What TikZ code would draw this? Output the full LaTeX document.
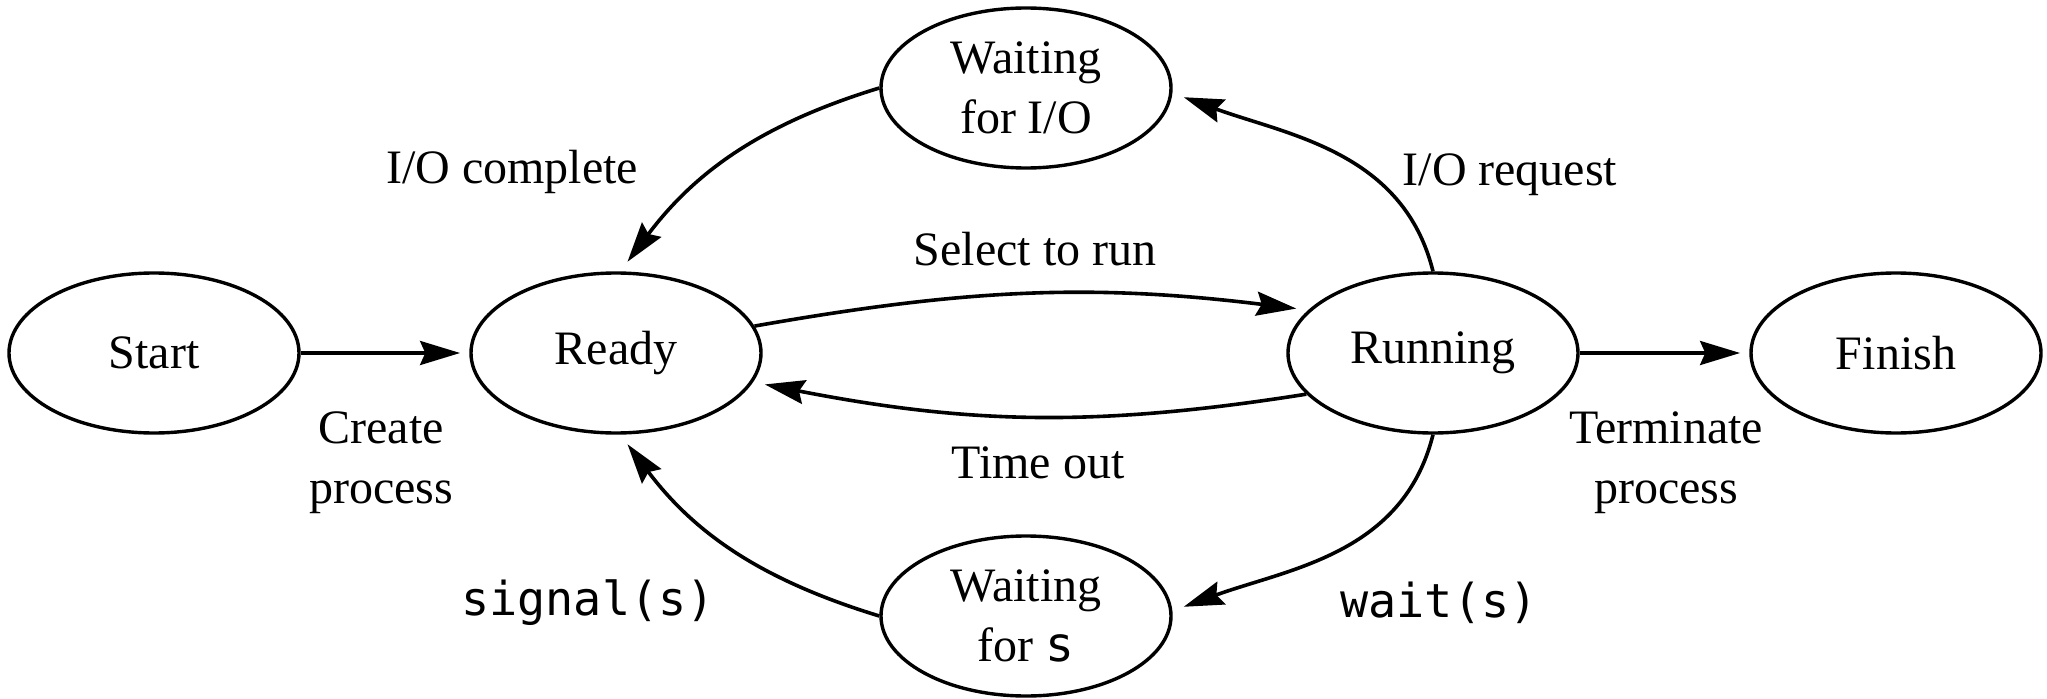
\documentclass[tikz,border=0pt]{standalone}
\usepackage{fontspec}
\setmainfont{Liberation Serif}
\setmonofont{DejaVu Sans Mono}
\usetikzlibrary{arrows.meta,shapes.geometric}

\begin{document}
\begin{tikzpicture}[x=0.25pt, y=0.25pt,
  state/.style={draw, ellipse, line width=0.85pt, minimum width=72.5pt,
    minimum height=40pt, inner sep=0pt, align=center,
    font=\fontsize{12}{15}\selectfont},
  lbl/.style={align=center, inner sep=0pt, font=\fontsize{12}{15}\selectfont},
  code/.style={inner sep=0pt, anchor=base, font=\fontsize{11.7}{14}\selectfont\ttfamily},
  trans/.style={line width=0.9pt,
    -{Stealth[length=10pt, width=6pt, inset=1.3pt]}, shorten >=3pt}
]
\useasboundingbox (0,0) rectangle (2047,698);

% process states
\node[state] (start)   at (154,345)  {Start};
\node[state] (ready)   at (616,345)  {Ready};
\node[state] (running) at (1433,345) {Running};
\node[state] (finish)  at (1896,345) {Finish};
\node[state] (waitio)  at (1026,610) {Waiting\\for I/O};
\node[state] (waits)   at (1026,82)  {Waiting\\for \texttt{s}};

% transitions
\draw[trans, shorten >=2.3pt] (start.east) -- (ready.west);
\draw[trans, shorten >=2.3pt] (running.east) -- (finish.west);
\draw[trans] (ready.11) to[out=10, in=173] (running.161);
\draw[trans] (running.198) to[out=189, in=-11] (ready.-12);
\draw[trans] (running.90) to[out=104, in=-20] (waitio.-2);
\draw[trans] (running.270) to[out=-104, in=20] (waits.2);
\draw[trans] (waitio.180) to[out=197, in=53] (ready.87);
\draw[trans] (waits.180) to[out=163, in=-53] (ready.-87);

% transition labels
\node[lbl] (lcreate) at (381,235)  {Create\\process};
\node[lbl] (lterm)   at (1666,235) {Terminate\\process};
\node[lbl, anchor=base] (liodone) at (512,514)  {I/O complete};
\node[lbl, anchor=base] (lioreq)  at (1510,513) {I/O request};
\node[lbl, anchor=base] (lselect) at (1035,433) {Select to run};
\node[lbl, anchor=base] (ltime)   at (1038,220) {Time out};
\node[code] (lsignal) at (588,83)  {signal(s)};
\node[code] (lwait)   at (1439,81) {wait(s)};
\end{tikzpicture}
\end{document}
